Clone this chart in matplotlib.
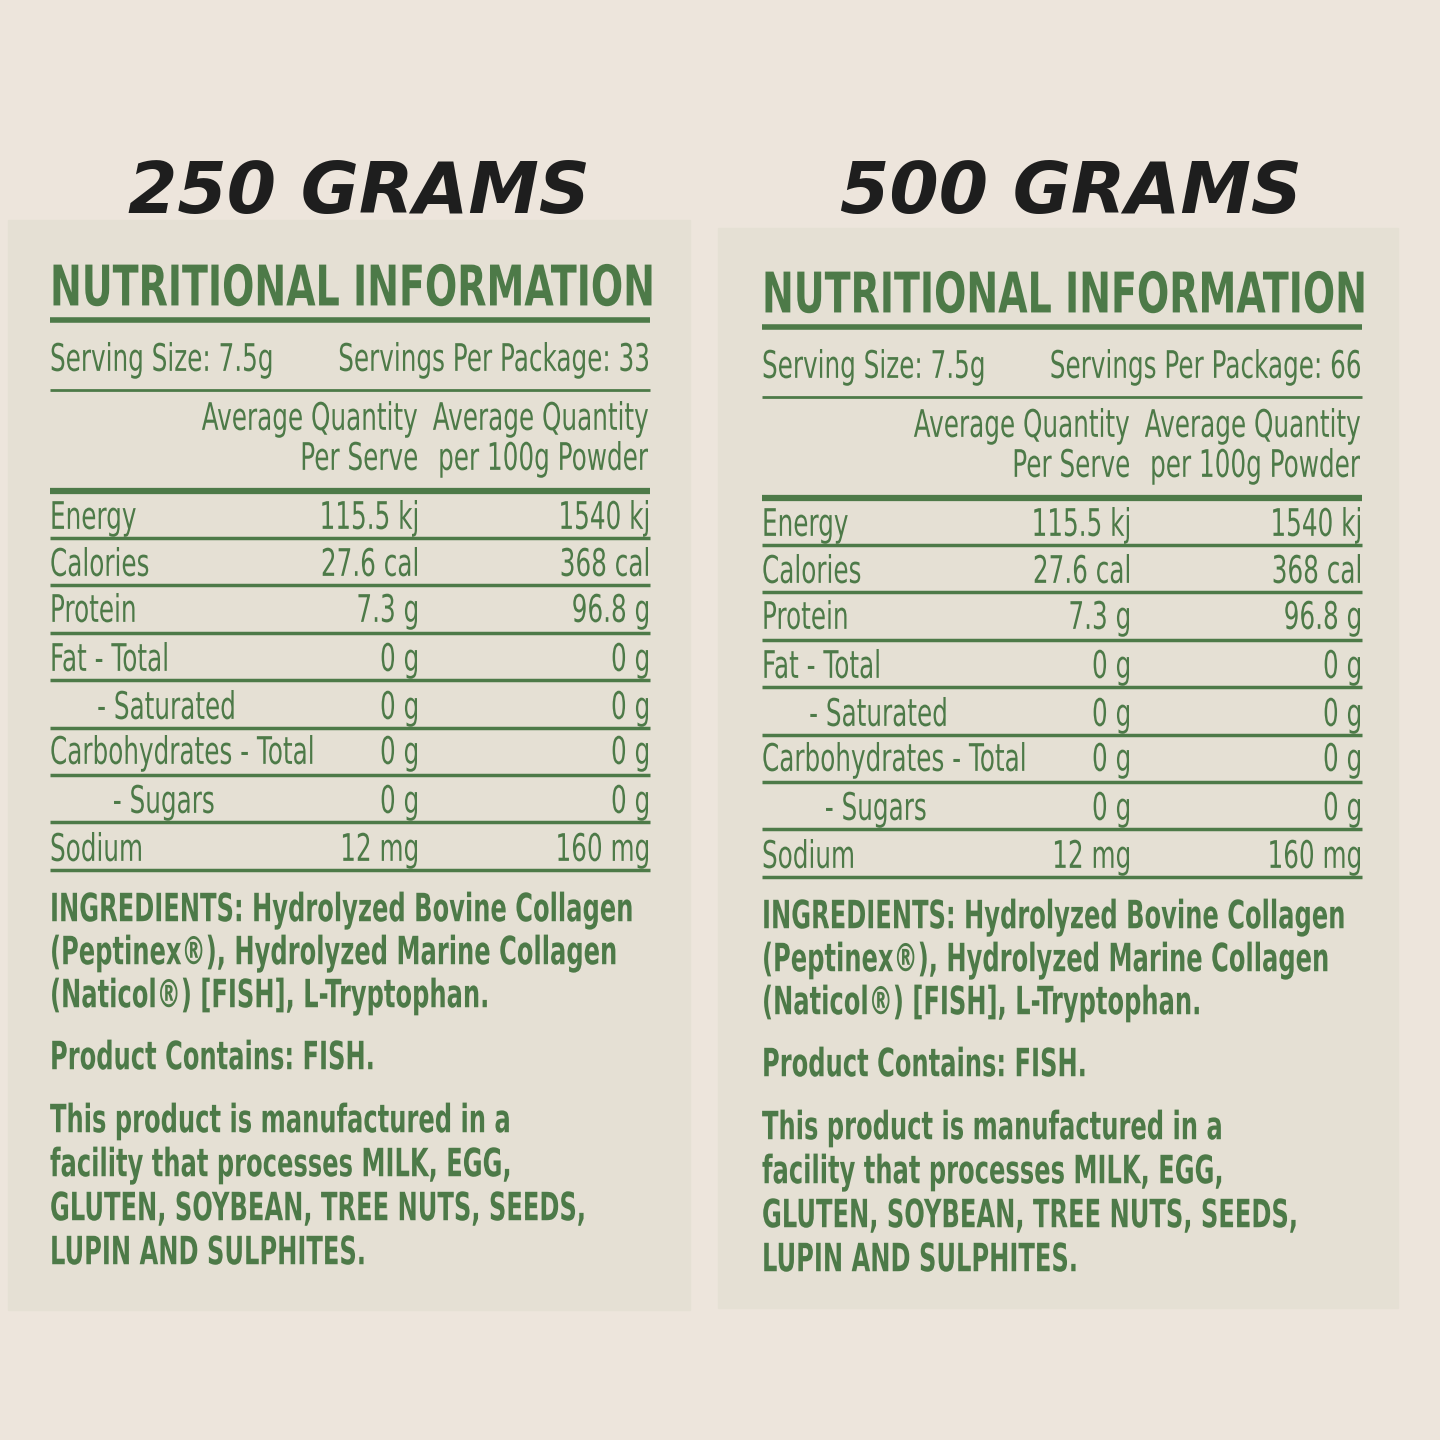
import matplotlib
matplotlib.use("Agg")
import matplotlib.pyplot as plt
from matplotlib.patches import Rectangle, PathPatch
from matplotlib.textpath import TextPath
from matplotlib.font_manager import FontProperties
from matplotlib.transforms import Affine2D

titles = ["250 GRAMS", "500 GRAMS"]
servings = [33, 66]
serving_size = "7.5g"
nutrients = ["Energy", "Calories", "Protein", "Fat - Total", "      - Saturated",
             "Carbohydrates - Total", "        - Sugars", "Sodium"]
per_serve = ["115.5 kj", "27.6 cal", "7.3 g", "0 g", "0 g", "0 g", "0 g", "12 mg"]
per_100g = ["1540 kj", "368 cal", "96.8 g", "0 g", "0 g", "0 g", "0 g", "160 mg"]
ingredients = ["INGREDIENTS: Hydrolyzed Bovine Collagen",
               "(Peptinex®), Hydrolyzed Marine Collagen",
               "(Naticol®) [FISH], L-Tryptophan."]
contains = "Product Contains: FISH."
facility = ["This product is manufactured in a",
            "facility that processes MILK, EGG,",
            "GLUTEN, SOYBEAN, TREE NUTS, SEEDS,",
            "LUPIN AND SULPHITES."]

GREEN = "#4d7a48"

fig = plt.figure(figsize=(14.4, 14.4), dpi=100, facecolor="#ede5dc")
ax = fig.add_axes([0, 0, 1, 1])
ax.set_xlim(0, 1440); ax.set_ylim(1440, 0); ax.axis("off")

FP_N = FontProperties(family="DejaVu Sans")
FP_B = FontProperties(family="DejaVu Sans", weight="bold")


def ntext(x, y, s, size, sx=0.65, ha="left", bold=False, width=None):
    tp = TextPath((0, 0), s, size=size, prop=FP_B if bold else FP_N)
    ext = tp.get_extents()
    w = ext.x1
    if width is not None:
        sx = width / (ext.x1 - ext.x0)
    w *= sx
    x0 = x if ha == "left" else (x - w if ha == "right" else x - w / 2)
    tr = Affine2D().scale(sx, -1).translate(x0, y + 0.365 * size)
    ax.add_patch(PathPatch(tr.transform_path(tp), fc=GREEN, ec="none", lw=0))


panels = [(8, 220, 682, 1090, 0, 0), (718, 228, 680, 1080, 712, 7)]
for i, (px, py, pw, ph, dx, dy) in enumerate(panels):
    ax.add_patch(Rectangle((px, py), pw, ph, color="#e5e0d4", zorder=0))
    ax.text(359 + dx, 193, titles[i], ha="center", va="center", fontsize=51,
            fontweight="heavy", fontstyle="italic", color="#1e1e1e",
            family="DejaVu Sans")
    L, C1, C2 = 50 + dx, 417 + dx, 648 + dx

    def t(x, y, s, ha="left", size=38, sx=0.65, bold=False):
        ntext(x, y + dy, s, size, sx=sx, ha=ha, bold=bold)

    def hl(y, lw):
        ax.plot([L, C2 + 2], [y + dy, y + dy], color=GREEN, lw=lw, solid_capstyle="butt")

    ntext(L, 285 + dy, "NUTRITIONAL INFORMATION", 56, bold=True, width=598)
    hl(320, 4)
    t(L, 357, f"Serving Size: {serving_size}")
    t(C2, 357, f"Servings Per Package: {servings[i]}", ha="right")
    hl(390, 2)
    t(C1, 416, "Average Quantity", ha="right")
    t(C1, 456, "Per Serve", ha="right")
    t(C2, 416, "Average Quantity", ha="right")
    t(C2, 456, "per 100g Powder", ha="right")
    hl(491, 4.5)
    ys = [515, 562, 608, 657, 705, 750, 799, 847]
    lines = [538, 585, 633, 680, 728, 775, 822, 870]
    for n, a, b, y, ly in zip(nutrients, per_serve, per_100g, ys, lines):
        t(L, y, n); t(C1, y, a, ha="right"); t(C2, y, b, ha="right")
        hl(ly, 2.5)
    for k, s in enumerate(ingredients):
        t(L, 907 + k * 43, s, size=39, sx=0.62, bold=True)
    t(L, 1055, contains, size=39, sx=0.62, bold=True)
    for k, s in enumerate(facility):
        t(L, 1118 + k * 44, s, size=39, sx=0.62, bold=True)

fig.savefig("out.png", dpi=100, facecolor=fig.get_facecolor())
